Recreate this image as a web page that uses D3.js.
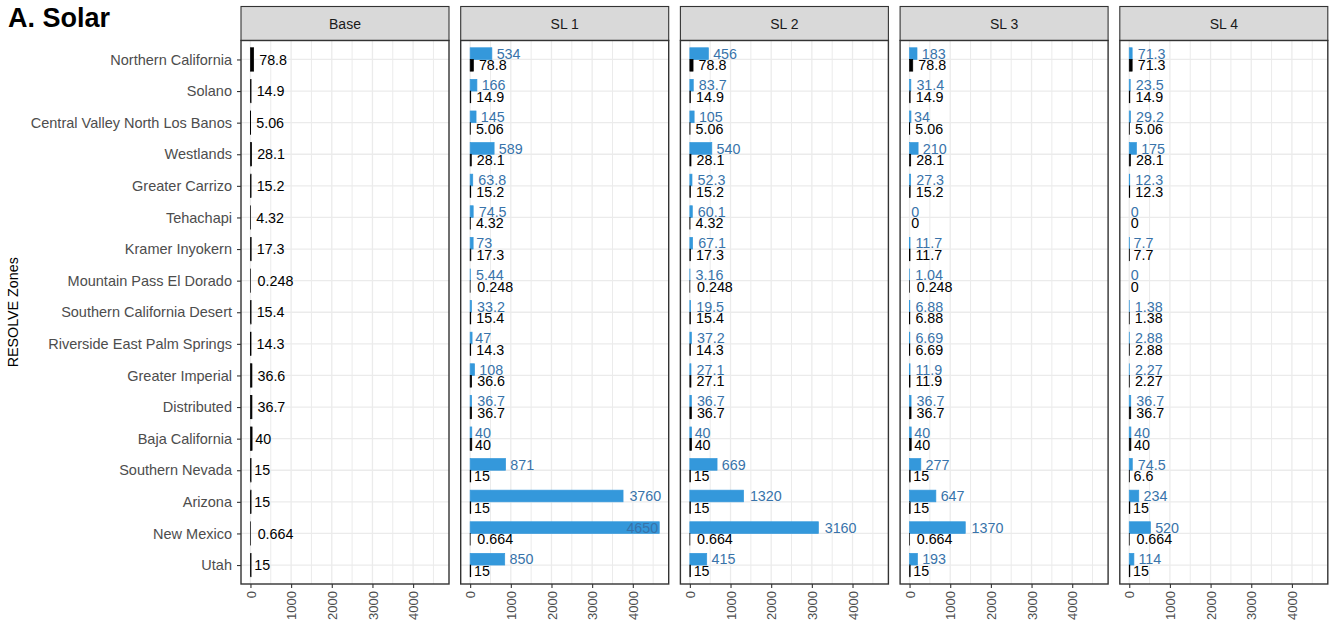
<!DOCTYPE html>
<html>
<head>
<meta charset="utf-8">
<script src="https://cdn.jsdelivr.net/npm/d3@7"></script>
<style>
  html, body { margin: 0; padding: 0; background: #ffffff; }
  svg { display: block; font-family: "Liberation Sans", Arial, Helvetica, sans-serif; }
</style>
</head>
<body>
<svg id="chart" width="1335" height="633"></svg>
<script>
// Solar build-out by RESOLVE zone, one facet per scenario
const categories = [
  "Northern California", "Solano", "Central Valley North Los Banos", "Westlands",
  "Greater Carrizo", "Tehachapi", "Kramer Inyokern", "Mountain Pass El Dorado",
  "Southern California Desert", "Riverside East Palm Springs", "Greater Imperial",
  "Distributed", "Baja California", "Southern Nevada", "Arizona", "New Mexico", "Utah"
];

const panelNames = ["Base", "SL 1", "SL 2", "SL 3", "SL 4"];

const baseValues = [78.8, 14.9, 5.06, 28.1, 15.2, 4.32, 17.3, 0.248, 15.4, 14.3, 36.6, 36.7, 40, 15, 15, 0.664, 15];

const sl1Scenario = [534, 166, 145, 589, 63.8, 74.5, 73, 5.44, 33.2, 47, 108, 36.7, 40, 871, 3760, 4650, 850];
const sl1Reference = [78.8, 14.9, 5.06, 28.1, 15.2, 4.32, 17.3, 0.248, 15.4, 14.3, 36.6, 36.7, 40, 15, 15, 0.664, 15];

const sl2Scenario = [456, 83.7, 105, 540, 52.3, 60.1, 67.1, 3.16, 19.5, 37.2, 27.1, 36.7, 40, 669, 1320, 3160, 415];
const sl2Reference = [78.8, 14.9, 5.06, 28.1, 15.2, 4.32, 17.3, 0.248, 15.4, 14.3, 27.1, 36.7, 40, 15, 15, 0.664, 15];

const sl3Scenario = [183, 31.4, 34, 210, 27.3, 0, 11.7, 1.04, 6.88, 6.69, 11.9, 36.7, 40, 277, 647, 1370, 193];
const sl3Reference = [78.8, 14.9, 5.06, 28.1, 15.2, 0, 11.7, 0.248, 6.88, 6.69, 11.9, 36.7, 40, 15, 15, 0.664, 15];

const sl4Scenario = [71.3, 23.5, 29.2, 175, 12.3, 0, 7.7, 0, 1.38, 2.88, 2.27, 36.7, 40, 74.5, 234, 520, 114];
const sl4Reference = [71.3, 14.9, 5.06, 28.1, 12.3, 0, 7.7, 0, 1.38, 2.88, 2.27, 36.7, 40, 6.6, 15, 0.664, 15];

const xTicks = [0, 1000, 2000, 3000, 4000];
const xMinorTicks = [500, 1500, 2500, 3500, 4500];

// facet contents: list of series, drawn top-to-bottom within each category band
const facets = [
  { name: panelNames[0], series: [{ values: baseValues, kind: "ref" }] },
  { name: panelNames[1], series: [{ values: sl1Scenario, kind: "sl" }, { values: sl1Reference, kind: "ref" }] },
  { name: panelNames[2], series: [{ values: sl2Scenario, kind: "sl" }, { values: sl2Reference, kind: "ref" }] },
  { name: panelNames[3], series: [{ values: sl3Scenario, kind: "sl" }, { values: sl3Reference, kind: "ref" }] },
  { name: panelNames[4], series: [{ values: sl4Scenario, kind: "sl" }, { values: sl4Reference, kind: "ref" }] }
];

const style = {
  sl: { bar: "#3498db", text: "#3873aa" },
  ref: { bar: "#000000", text: "#000000" }
};

const svg = d3.select("#chart");

const layout = {
  firstPanelX: 241,
  panelW: 208,
  panelGap: 11.7,
  stripTop: 6.5,
  panelTop: 40.5,
  panelBottom: 584
};

// shared scales
const allValues = facets.flatMap(f => f.series.flatMap(s => s.values));
const xMax = d3.max(allValues);
const pad = xMax * 0.05;
const x = d3.scaleLinear().domain([-pad, xMax + pad]).range([0, layout.panelW]);

const y = d3.scalePoint()
  .domain(categories)
  .range([layout.panelTop, layout.panelBottom])
  .padding(0.6);
const step = y.step();
const barWidth = step * 0.74;

const fmt = d3.format(".3~r");

// title
svg.append("text")
  .attr("x", 8).attr("y", 27)
  .attr("font-size", 27).attr("font-weight", "bold")
  .attr("fill", "#000")
  .text("A. Solar");

// y axis title
svg.append("text")
  .attr("transform", `translate(18,${(layout.panelTop + layout.panelBottom) / 2}) rotate(-90)`)
  .attr("text-anchor", "middle")
  .attr("font-size", 14.3)
  .attr("fill", "#000")
  .text("RESOLVE Zones");

facets.forEach((facet, i) => {
  const px = layout.firstPanelX + i * (layout.panelW + layout.panelGap);
  const g = svg.append("g").attr("transform", `translate(${px},0)`);

  // strip
  g.append("rect")
    .attr("x", 0).attr("y", layout.stripTop)
    .attr("width", layout.panelW).attr("height", layout.panelTop - layout.stripTop)
    .attr("fill", "#d9d9d9").attr("stroke", "#333333").attr("stroke-width", 1.1);
  g.append("text")
    .attr("x", layout.panelW / 2)
    .attr("y", (layout.stripTop + layout.panelTop) / 2)
    .attr("dy", "0.36em")
    .attr("text-anchor", "middle")
    .attr("font-size", 14)
    .attr("fill", "#1a1a1a")
    .text(facet.name);

  // panel background + grid
  g.append("rect")
    .attr("x", 0).attr("y", layout.panelTop)
    .attr("width", layout.panelW).attr("height", layout.panelBottom - layout.panelTop)
    .attr("fill", "#ffffff");

  const grid = g.append("g");
  grid.selectAll("line.minor").data(xMinorTicks).join("line")
    .attr("x1", d => x(d)).attr("x2", d => x(d))
    .attr("y1", layout.panelTop).attr("y2", layout.panelBottom)
    .attr("stroke", "#ebebeb").attr("stroke-width", 1);
  grid.selectAll("line.major").data(xTicks).join("line")
    .attr("x1", d => x(d)).attr("x2", d => x(d))
    .attr("y1", layout.panelTop).attr("y2", layout.panelBottom)
    .attr("stroke", "#ebebeb").attr("stroke-width", 1.3);
  grid.selectAll("line.hgrid").data(categories).join("line")
    .attr("x1", 0).attr("x2", layout.panelW)
    .attr("y1", d => y(d)).attr("y2", d => y(d))
    .attr("stroke", "#ebebeb").attr("stroke-width", 1.3);

  // bars, dodged within each category band
  const nSeries = facet.series.length;
  const subH = barWidth / nSeries;
  facet.series.forEach((s, si) => {
    const col = style[s.kind];
    const rows = categories.map((c, ci) => ({ cat: c, value: s.values[ci] }));
    const top = d => y(d.cat) - barWidth / 2 + si * subH;

    g.append("g").selectAll("rect").data(rows).join("rect")
      .attr("x", x(0))
      .attr("y", d => top(d))
      .attr("width", d => x(d.value) - x(0))
      .attr("height", subH)
      .attr("fill", col.bar)
      .attr("stroke", col.bar)
      .attr("stroke-width", 0.7);

    const labels = g.append("g").selectAll("text").data(rows).join("text")
      .attr("y", d => top(d) + subH / 2)
      .attr("dy", "0.36em")
      .attr("font-size", 14.3)
      .attr("fill", col.text)
      .text(d => fmt(d.value));

    labels.each(function (d) {
      const t = d3.select(this);
      const w = this.getComputedTextLength();
      const end = x(d.value);
      const start = end + 0.2 * w;
      if (start + w > layout.panelW) {
        t.attr("x", end - 1).attr("text-anchor", "end");
      } else {
        t.attr("x", start).attr("text-anchor", "start");
      }
    });
  });

  // panel border
  g.append("rect")
    .attr("x", 0).attr("y", layout.panelTop)
    .attr("width", layout.panelW).attr("height", layout.panelBottom - layout.panelTop)
    .attr("fill", "none").attr("stroke", "#333333").attr("stroke-width", 1.4);

  // x axis
  const xAxis = g.append("g")
    .attr("transform", `translate(0,${layout.panelBottom})`)
    .call(d3.axisBottom(x).tickValues(xTicks).tickSize(4).tickFormat(d3.format("d")));
  xAxis.attr("font-family", null).attr("font-size", null);
  xAxis.select(".domain").remove();
  xAxis.selectAll(".tick line").attr("stroke", "#333333").attr("stroke-width", 1.1);
  xAxis.selectAll(".tick text")
    .attr("font-size", 13)
    .attr("fill", "#4d4d4d")
    .attr("transform", "rotate(-90)")
    .attr("text-anchor", "end")
    .attr("x", -7).attr("y", 0)
    .attr("dy", "0.36em");

  // y axis on the first facet only
  if (i === 0) {
    const yAxis = g.append("g")
      .call(d3.axisLeft(y).tickSize(4).tickPadding(5));
    yAxis.attr("font-family", null).attr("font-size", null);
    yAxis.select(".domain").remove();
    yAxis.selectAll(".tick line").attr("stroke", "#333333").attr("stroke-width", 1.1);
    yAxis.selectAll(".tick text")
      .attr("font-size", 14.5)
      .attr("fill", "#4d4d4d");
  }
});
</script>
</body>
</html>
